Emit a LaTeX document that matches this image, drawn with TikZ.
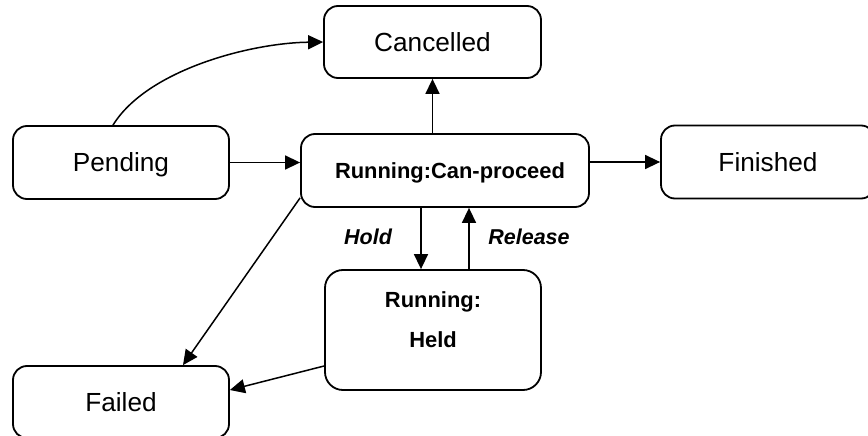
\documentclass[tikz,border=0pt]{standalone}
\usepackage{fontspec}
\setmainfont{Liberation Sans}
\usetikzlibrary{arrows.meta,calc}
\begin{document}
\begin{tikzpicture}[x=1pt,y=-1pt,
  box/.style={draw, line width=1.8pt, rounded corners=14pt, inner sep=0pt,
    font=\fontsize{26.2}{28}\selectfont, text height=18.6pt, text depth=0pt, align=center},
  bbox/.style={box, font=\fontsize{21.9}{24}\selectfont\bfseries, text height=15.6pt},
  btext/.style={inner sep=0pt, font=\fontsize{21.9}{24}\selectfont\bfseries},
  arr/.style={line width=1.5pt, -{Triangle[length=15pt,width=14pt]}},
  lab/.style={inner sep=0pt, font=\fontsize{21.5}{24}\selectfont\bfseries\itshape}
]
\useasboundingbox (0,0) rectangle (868,436);
\clip (0,0) rectangle (868,436);

\node[box, minimum width=217pt, minimum height=72pt] (can) at (432.5,42) {Cancelled};
\node[box, minimum width=216pt, minimum height=73pt] (pend) at (121,162.5) {Pending};
\node[bbox, minimum width=288pt, minimum height=73pt] (run) at (445,170.5) {\hspace*{10pt}Running:Can-proceed};
\node[box, minimum width=214pt, minimum height=73pt] (fin) at (768,162) {Finished};
\node[box, rounded corners=18pt, minimum width=216pt, minimum height=120pt] (held) at (433,330) {};
\node[btext, anchor=base] (heldA) at (433,307) {Running:};
\node[btext, anchor=base] (heldB) at (433,347) {Held};
\node[box, minimum width=216pt, minimum height=72pt] (fail) at (121,402) {Failed};

\draw[arr] ([xshift=-8pt]pend.north) .. controls (147,70) and (250,43) .. (can.west);
\draw[arr] (pend.east) -- (pend.east -| run.west);
\draw[arr] (can.south |- run.north) -- (can.south);
\draw[arr] (fin.west -| run.east) -- (fin.west);
\draw[arr] ([xshift=-24pt]run.south) -- ([xshift=-24pt]run.south |- held.north);
\draw[arr] ([xshift=24pt]run.south |- held.north) -- ([xshift=24pt]run.south);
\draw[arr] ([yshift=10pt]run.south west) -- ([xshift=62pt]fail.north);
\draw[arr] ([yshift=-36pt]held.west) -- ([yshift=12pt]fail.east);

\node[lab, anchor=base] (hold) at (368,244) {Hold};
\node[lab, anchor=base] (rel) at (529,244) {Release};
\end{tikzpicture}
\end{document}
